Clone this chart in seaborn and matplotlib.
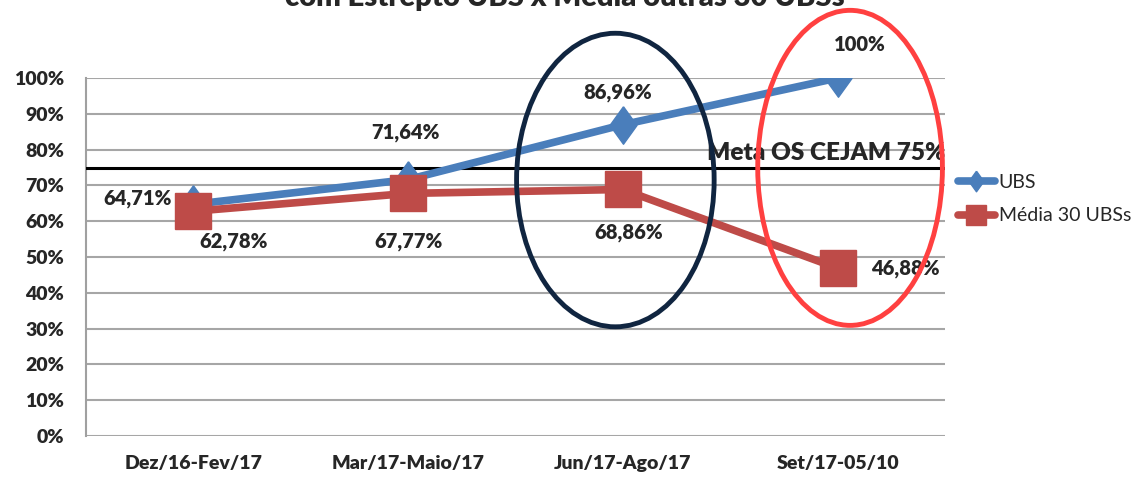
import numpy as np
import pandas as pd
import seaborn as sns
import matplotlib
matplotlib.use("Agg")
import matplotlib.pyplot as plt
from matplotlib.patches import Ellipse

periodos = ["Dez/16-Fev/17", "Mar/17-Maio/17", "Jun/17-Ago/17", "Set/17-05/10"]
ubs = [64.71, 71.64, 86.96, 100.0]
media_30 = [62.78, 67.77, 68.86, 46.88]
ubs_rotulos = ["64,71%", "71,64%", "86,96%", "100%"]
media_rotulos = ["62,78%", "67,77%", "68,86%", "46,88%"]
meta = 75

sns.set_theme(style="white")
plt.rcParams['font.family'] = ['Lato', 'DejaVu Sans']

azul = "#4A7EBB"
vermelho = "#BE4B48"
losango = [(0, 1), (0.72, 0), (0, -1), (-0.72, 0), (0, 1)]

fig = plt.figure(figsize=(11.38, 4.79), dpi=100)
ax = fig.add_axes([86/1138, 43/479, (945-86)/1138, (436-78)/479])

df = pd.DataFrame({"periodo": periodos, "UBS": ubs, "Média 30 UBSs": media_30})

sns.lineplot(data=df, x="periodo", y="UBS", ax=ax, color=azul, lw=5.5,
             marker=losango, markersize=27, markeredgecolor=azul, markeredgewidth=1,
             label="UBS", zorder=4)
sns.lineplot(data=df, x="periodo", y="Média 30 UBSs", ax=ax, color=vermelho, lw=5.5,
             marker="s", markersize=26, markeredgecolor=vermelho, markeredgewidth=1,
             label="Média 30 UBSs", zorder=5)

ax.axhline(meta, color="black", lw=2.2, zorder=3)
ax.text(3.5, meta + 1.0, "Meta OS CEJAM 75%", ha="right", va="bottom",
        fontsize=17.5, fontweight="heavy")

# rotulos de dados (offset em pontos)
off_ubs = [(-40, 4), (-2, 34), (-4, 23), (16, 24)]
off_med = [(29, -22), (0, -35), (4, -31), (49, 0)]
for i in range(4):
    ax.annotate(ubs_rotulos[i], (i, ubs[i]), xytext=off_ubs[i], textcoords="offset points",
                ha="center", va="center", fontsize=14.5, fontweight="heavy", zorder=6)
    ax.annotate(media_rotulos[i], (i, media_30[i]), xytext=off_med[i], textcoords="offset points",
                ha="center", va="center", fontsize=14.5, fontweight="heavy", zorder=6)

# elipses de destaque
ax.add_patch(Ellipse((1.965, 71.5), 0.92, 82, fill=False, ec="#102540", lw=3.5,
                     clip_on=False, zorder=7))
ax.add_patch(Ellipse((3.058, 74.9), 0.86, 88, fill=False, ec="#FF4040", lw=3.5,
                     clip_on=False, zorder=7))

ax.set_xlim(-0.5, 3.5)
ax.set_ylim(0, 100)
ax.set_yticks(np.arange(0, 101, 10))
ax.set_yticklabels([f"{v}%" for v in range(0, 101, 10)], fontsize=14, fontweight="heavy")
ax.set_xticks(range(4))
ax.set_xticklabels(periodos, fontsize=14, fontweight="heavy")
ax.set_xticks(np.arange(-0.5, 3.6, 1), minor=True)
ax.tick_params(axis="x", which="major", length=0, pad=14)
ax.tick_params(axis="x", which="minor", length=7, color="#A0A0A0", width=1.2, direction="out")
ax.tick_params(axis="y", length=7, color="#A0A0A0", width=1.2, direction="out", pad=9)
ax.grid(axis="y", color="#A6A6A6", lw=1.5)
ax.set_axisbelow(True)
ax.set_xlabel("")
ax.set_ylabel("")
for s in ["top", "right", "bottom"]:
    ax.spines[s].set_visible(False)
ax.spines["left"].set_color("#A0A0A0")
ax.spines["left"].set_linewidth(1.5)

ax.legend_.remove()
h, l = ax.get_legend_handles_labels()
fig.legend(h, l, loc="upper left", bbox_to_anchor=(950/1138, 1 - 166/479), frameon=False,
           fontsize=14, markerscale=0.55, handlelength=1.9, handletextpad=0.2,
           labelspacing=0.85, borderaxespad=0)

fig.text(565/1138, 1 - 6/479, "com Estrepto UBS x Média outras 30 UBSs", ha="center",
         va="baseline", fontsize=21, fontweight="heavy")

fig.savefig("out.png", dpi=100)
